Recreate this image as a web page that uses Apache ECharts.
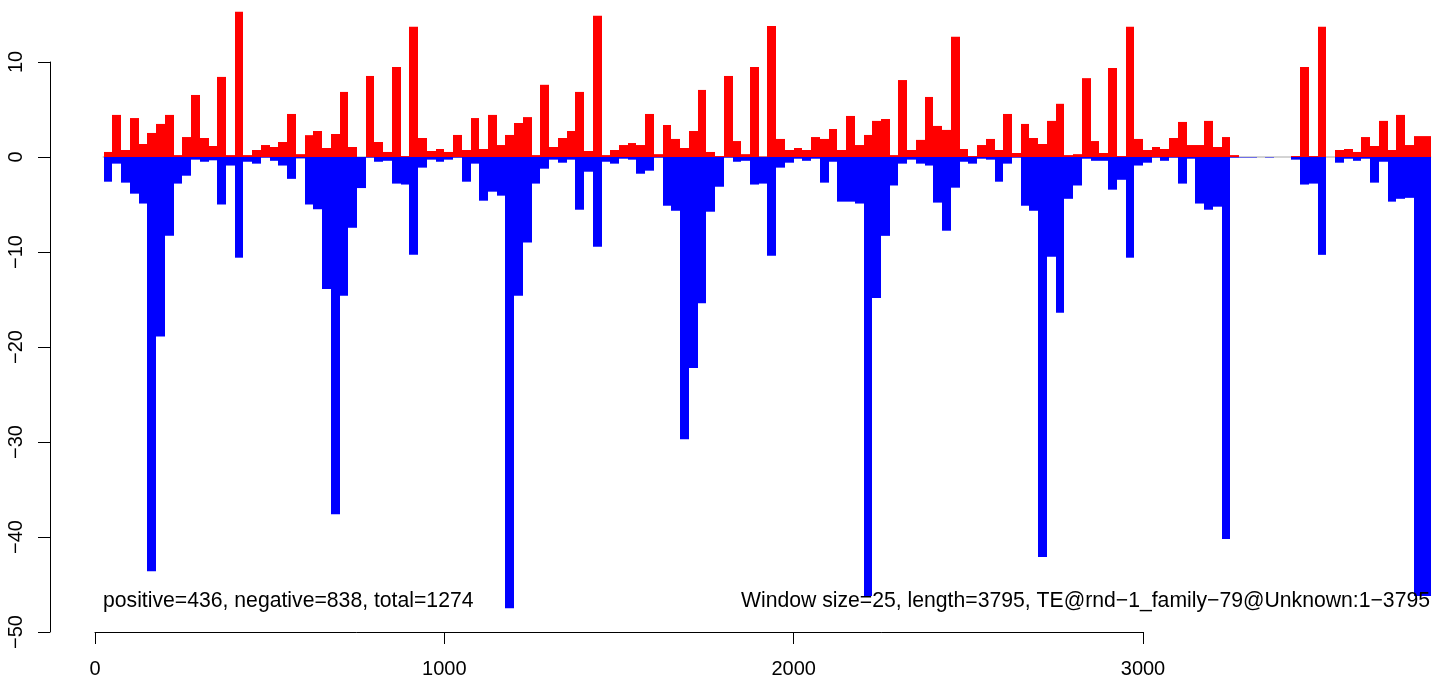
<!DOCTYPE html>
<html>
<head>
<meta charset="utf-8">
<script src="https://cdn.jsdelivr.net/npm/echarts@6/dist/echarts.min.js"></script>
<style>
html,body{margin:0;padding:0;background:#ffffff;}
#chart{width:1439px;height:680px;}
</style>
</head>
<body>
<div id="chart"></div>
<script>
// ---- data ----
const windowSize = 25;
const seqLength = 3795;
const positiveValues = [
  0.53, 4.43, 0.74, 4.1, 1.37, 2.53, 3.48, 4.43, 0.2, 2.1,
  6.53, 2.0, 1.16, 8.43, 0.2, 15.3, 0.2, 0.74, 1.26, 1.05,
  1.58, 4.53, 0.3, 2.3, 2.74, 0.95, 2.42, 6.85, 1.05, 0,
  8.53, 1.58, 0.53, 9.48, 0.1, 13.7, 2.0, 0.63, 0.84, 0.53,
  2.32, 0.74, 4.1, 0.84, 4.43, 1.26, 2.32, 3.58, 4.2, 0.2,
  7.6, 1.05, 2.0, 2.74, 6.85, 0.63, 14.86, 0.2, 0.74, 1.26,
  1.47, 1.26, 4.53, 0.3, 3.37, 1.9, 0.95, 2.74, 7.06, 0.53,
  0.1, 8.53, 1.68, 0.3, 9.48, 0.05, 13.8, 1.9, 0.74, 0.95,
  0.74, 2.1, 1.9, 2.95, 0.74, 4.32, 1.26, 2.32, 3.8, 4.0,
  0.2, 8.1, 0.74, 1.8, 6.32, 3.27, 2.85, 12.65, 0.84, 0.1,
  1.26, 1.9, 0.74, 4.53, 0.42, 3.48, 2.0, 1.37, 3.8, 5.6,
  0.2, 0.3, 8.3, 1.68, 0.42, 9.38, 0.1, 13.7, 1.9, 0.74,
  1.05, 0.84, 2.0, 3.69, 1.26, 1.26, 3.8, 1.05, 2.1, 0.2,
  0, 0, 0, 0, 0, 0, 0.1, 9.48, 0.1, 13.7,
  0, 0.74, 0.84, 0.53, 2.1, 1.16, 3.8, 0.74, 4.43, 1.26,
  2.2, 2.2
];
const negativeValues = [
  -2.6, -0.7, -2.7, -3.86, -4.9, -43.6, -18.9, -8.29, -2.8, -1.97,
  -0.28, -0.5, -0.35, -5.0, -0.9, -10.6, -0.5, -0.7, -0.07, -0.4,
  -0.9, -2.3, -0.15, -5.0, -5.5, -13.9, -37.6, -14.6, -7.45, -3.27,
  -0.07, -0.5, -0.4, -2.8, -2.9, -10.3, -1.12, -0.28, -0.5, -0.28,
  -0.07, -2.6, -0.7, -4.6, -3.65, -4.07, -47.5, -14.6, -9.0, -2.8,
  -1.23, -0.28, -0.6, -0.28, -5.55, -1.55, -9.45, -0.5, -0.7, -0.18,
  -0.28, -1.76, -1.44, -0.07, -5.13, -5.66, -29.7, -22.2, -15.4, -5.76,
  -3.13, -0.07, -0.5, -0.4, -2.9, -2.8, -10.4, -1.12, -0.6, -0.18,
  -0.4, -0.18, -2.7, -0.5, -4.7, -4.7, -4.9, -46.2, -14.85, -8.3,
  -3.0, -0.7, -0.28, -0.7, -0.9, -4.8, -7.76, -3.23, -0.5, -0.7,
  -0.18, -0.28, -2.6, -0.7, -0.07, -5.13, -5.66, -42.1, -10.5, -16.4,
  -4.4, -3.0, -0.18, -0.4, -0.4, -3.44, -2.4, -10.6, -0.9, -0.6,
  -0.07, -0.4, -0.07, -2.8, -0.18, -4.9, -5.55, -5.23, -40.2, -0.07,
  -0.05, -0.05, 0, -0.05, 0, 0, -0.28, -2.9, -2.8, -10.3,
  0, -0.6, -0.18, -0.4, -0.18, -2.7, -0.5, -4.7, -4.4, -4.3,
  -46.2, -46.2
];
const zeroLineRange = [22, 3825];
const xTickValues = [0, 1000, 2000, 3000];
const yTickValues = [-50, -40, -30, -20, -10, 0, 10];
const leftNote = 'positive=436, negative=838, total=1274';
const rightNote = 'Window size=25, length=3795, TE@rnd\u22121_family\u221279@Unknown:1\u22123795';

// ---- build ----
function toRects(values) {
  return values.map(function (v, i) {
    const start = (i + 1) * windowSize;
    return [start, start + windowSize, v];
  });
}
function renderBar(params, api) {
  const x0 = api.value(0), x1 = api.value(1), v = api.value(2);
  const a = api.coord([x0, 0]);
  const b = api.coord([x1, v]);
  const left = Math.round(a[0]);
  const right = Math.round(b[0]);
  return {
    type: 'rect',
    shape: { x: left, y: Math.min(a[1], b[1]), width: right - left, height: Math.abs(b[1] - a[1]) },
    style: { fill: api.visual('color') }
  };
}
const FONT = '"Liberation Sans", Arial, Helvetica, sans-serif';
const fmtPlain = function (v) { return String(v).replace('-', '\u2212'); };

const chart = echarts.init(document.getElementById('chart'), null, { renderer: 'canvas' });
chart.setOption({
  animation: false,
  backgroundColor: '#ffffff',
  grid: [
    { left: 95, top: 5, width: 1336.2, height: 627 },
    { left: 95, top: 600, width: 1048, height: 32 },
    { left: 50, top: 62, width: 10, height: 570 }
  ],
  xAxis: [
    { gridIndex: 0, type: 'value', min: 0, max: 3825, show: false },
    {
      gridIndex: 1, type: 'value', min: 0, max: 3000, interval: 1000, position: 'bottom',
      axisLine: { show: true, lineStyle: { color: '#000', width: 1 } },
      axisTick: { show: true, length: 12, inside: false, lineStyle: { color: '#000', width: 1 } },
      axisLabel: { show: true, margin: 27, color: '#000', fontSize: 20, fontFamily: FONT,
        customValues: xTickValues, formatter: fmtPlain },
      splitLine: { show: false }
    },
    { gridIndex: 2, type: 'value', show: false }
  ],
  yAxis: [
    { gridIndex: 0, type: 'value', min: -50, max: 16, show: false },
    { gridIndex: 1, type: 'value', show: false },
    {
      gridIndex: 2, type: 'value', min: -50, max: 10, interval: 10, position: 'left',
      axisLine: { show: true, lineStyle: { color: '#000', width: 1 } },
      axisTick: { show: true, length: 12, inside: false, lineStyle: { color: '#000', width: 1 } },
      axisLabel: { show: true, rotate: 90, margin: 24, color: '#000', fontSize: 20, fontFamily: FONT,
        customValues: yTickValues, formatter: fmtPlain },
      splitLine: { show: false }
    }
  ],
  series: [
    {
      type: 'line', xAxisIndex: 0, yAxisIndex: 0, z: 1,
      data: [[zeroLineRange[0], 0], [zeroLineRange[1], 0]],
      symbol: 'none', lineStyle: { color: '#a8a8a8', width: 1 }, silent: true
    },
    {
      type: 'custom', xAxisIndex: 0, yAxisIndex: 0, z: 2,
      itemStyle: { color: '#ff0000' },
      renderItem: renderBar, data: toRects(positiveValues), silent: true
    },
    {
      type: 'custom', xAxisIndex: 0, yAxisIndex: 0, z: 3,
      itemStyle: { color: '#0000ff' },
      renderItem: renderBar, data: toRects(negativeValues), silent: true
    }
  ],
  graphic: [
    { type: 'text', left: 103, top: 591, z: 10,
      style: { text: leftNote, fill: '#000', font: '21.2px ' + FONT } },
    { type: 'text', right: 9, top: 591, z: 10,
      style: { text: rightNote, fill: '#000', font: '21.2px ' + FONT } }
  ]
});
</script>
</body>
</html>
